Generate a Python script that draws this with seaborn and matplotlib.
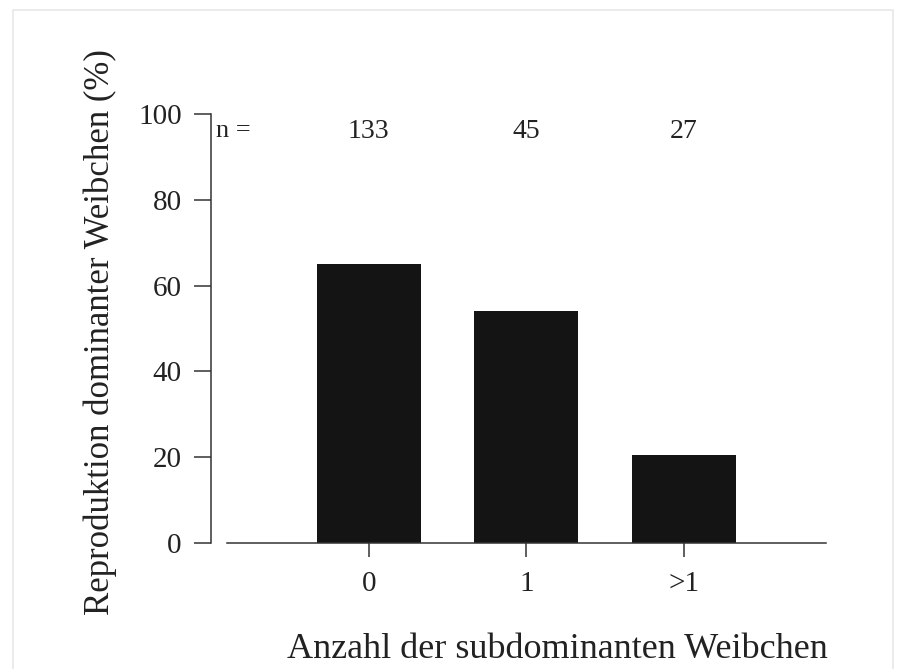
import matplotlib
matplotlib.use("Agg")
import matplotlib.pyplot as plt
import seaborn as sns
import pandas as pd
from matplotlib.patches import Rectangle

# Daten
categories = ["0", "1", ">1"]
reproduction = [65, 54, 20.5]
n_counts = [133, 45, 27]

sns.set_style("ticks")
plt.rcParams["font.family"] = ["Liberation Serif", "DejaVu Serif"]

df = pd.DataFrame({"gruppe": categories, "wert": reproduction})

fig = plt.figure(figsize=(8.98, 6.69), dpi=100)
ax = fig.add_axes([211 / 898, 1 - 543 / 669, 615 / 898, (543 - 114) / 669])

sns.barplot(data=df, x="gruppe", y="wert", color="#141414", width=0.66,
            saturation=1, ax=ax, edgecolor="none")

ax.set_xlim(-1.0, 2.9)
ax.set_ylim(0, 100)
ax.set_yticks([0, 20, 40, 60, 80, 100])
ax.set_xlabel("")
ax.set_ylabel("")

sns.despine(ax=ax)
ax.spines["left"].set_bounds(0, 100)
ax.spines["bottom"].set_bounds(-0.9, 2.9)
for s in ["left", "bottom"]:
    ax.spines[s].set_color("#333333")
    ax.spines[s].set_linewidth(1.1)

ax.tick_params(axis="y", length=12.5, width=1.1, color="#333333", pad=8.5,
               labelsize=21, labelcolor="#222222")
ax.tick_params(axis="x", length=10, width=1.1, color="#333333", pad=10,
               labelsize=21, labelcolor="#222222")

# Stichprobengroessen
ax.text(-0.97, 96, "n =", fontsize=19, ha="left", va="center", color="#222222")
for i, n in enumerate(n_counts):
    ax.text(i, 96, str(n), fontsize=20, ha="center", va="center", color="#222222")

fig.text(100 / 898, 1 - 332 / 669, "Reproduktion dominanter Weibchen (%)",
         rotation=90, ha="center", va="center", fontsize=25, color="#222222")
fig.text(557 / 898, 1 - 658 / 669, "Anzahl der subdominanten Weibchen",
         ha="center", va="baseline", fontsize=26, color="#222222")

# heller Rahmen des Scans
fig.patches.append(Rectangle((13 / 898, -0.05), 880 / 898, 1.05 - 10 / 669,
                             transform=fig.transFigure, fill=False,
                             edgecolor="#e8e8e8", linewidth=1.2))

fig.savefig("out.png", dpi=100)
